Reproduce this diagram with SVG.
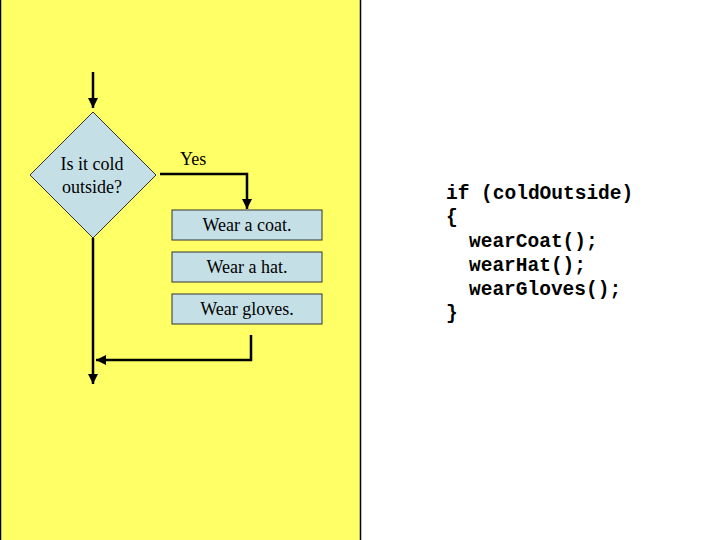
<svg xmlns="http://www.w3.org/2000/svg" width="720" height="540" viewBox="0 0 720 540">
<defs>
<style>
.box{fill:#c4e0e6;stroke:#333;stroke-width:1}
.lbl{font-family:"Liberation Serif","Times New Roman",serif;font-size:18px;fill:#000}
.code{font-family:"Liberation Mono","Courier New",monospace;font-size:19.5px;font-weight:bold;fill:#000}
.wire{fill:none;stroke:#000;stroke-width:2.5}
</style>
<marker id="ah" viewBox="0 0 10 10" refX="10" refY="5" markerWidth="4" markerHeight="4" orient="auto" markerUnits="strokeWidth">
<path d="M0,0 L10,5 L0,10 z" fill="#000"/>
</marker>
</defs>
<rect width="720" height="540" fill="#fff"/>
<rect x="0.5" y="-2" width="360" height="545" fill="#ffff66" stroke="#000" stroke-width="1.5"/>
<g id="connectors">
<path class="wire" d="M93,72 V108" marker-end="url(#ah)"/>
<path class="wire" d="M160,174 H247 V209" marker-end="url(#ah)"/>
<path class="wire" d="M251,335 V360 H96" marker-end="url(#ah)"/>
<path class="wire" d="M93,238 V384" marker-end="url(#ah)"/>
</g>
<g id="decision">
<polygon class="box" points="93,112 156,175 93,238 30,175"/>
<text class="lbl" x="92" y="170" text-anchor="middle">Is it cold</text>
<text class="lbl" x="92" y="193" text-anchor="middle">outside?</text>
</g>
<g id="yes-label"><text class="lbl" x="180" y="165">Yes</text></g>
<g id="coat">
<rect class="box" x="172" y="210" width="150" height="30"/>
<text class="lbl" x="247" y="231" text-anchor="middle">Wear a coat.</text>
</g>
<g id="hat">
<rect class="box" x="172" y="252" width="150" height="30"/>
<text class="lbl" x="247" y="273" text-anchor="middle">Wear a hat.</text>
</g>
<g id="gloves">
<rect class="box" x="172" y="294" width="150" height="30"/>
<text class="lbl" x="247" y="315" text-anchor="middle">Wear gloves.</text>
</g>
<g id="code">
<text class="code" x="446" y="199">if (coldOutside)</text>
<text class="code" x="446" y="223">{</text>
<text class="code" x="469" y="247">wearCoat();</text>
<text class="code" x="469" y="271">wearHat();</text>
<text class="code" x="469" y="295">wearGloves();</text>
<text class="code" x="446" y="319">}</text>
</g>
</svg>
